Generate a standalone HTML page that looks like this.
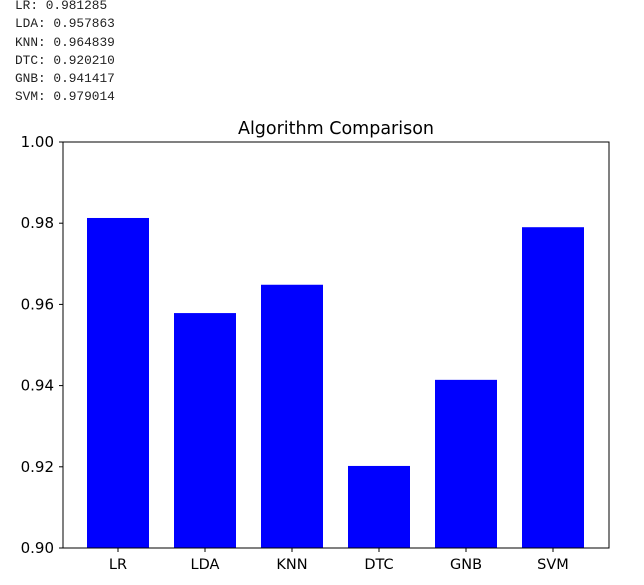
<!DOCTYPE html>
<html><head><meta charset="utf-8"><style>
body{margin:0;background:#fff;width:644px;height:585px;overflow:hidden;position:relative}
#log{position:absolute;left:15px;top:-3px;font:12.8px/18.3px "Liberation Mono",monospace;color:#222;white-space:pre}
svg{position:absolute;left:0;top:0}
text{font-family:"DejaVu Sans","Liberation Sans",sans-serif}
</style></head><body>
<div id="log">LR: 0.981285
LDA: 0.957863
KNN: 0.964839
DTC: 0.920210
GNB: 0.941417
SVM: 0.979014</div>
<svg id="chart" width="644" height="585"></svg>
<script>
const categories=["LR","LDA","KNN","DTC","GNB","SVM"];
const values=[0.981285,0.957863,0.964839,0.920210,0.941417,0.979014];
const yTicks=[0.90,0.92,0.94,0.96,0.98,1.00];
const L=63,R=609,T=142,B=548,yMin=0.90,yMax=1.00;
const y=v=>B-(v-yMin)/(yMax-yMin)*(B-T);
const step=87,first=118,bw=62;
const x=i=>first+step*i;
const svg=document.getElementById('chart');
const NS='http://www.w3.org/2000/svg';
function mk(tag,attrs,txt){const e=document.createElementNS(NS,tag);for(const k in attrs)e.setAttribute(k,attrs[k]);if(txt!==undefined)e.textContent=txt;svg.appendChild(e);return e;}
values.forEach((v,i)=>{
 const r=mk('rect',{x:x(i)-bw/2,y:y(v),width:bw,height:B-y(v),fill:'#0000ff'});
 
 
 mk('line',{x1:x(i),x2:x(i),y1:B,y2:B+4,stroke:'#000'});
 const lb=mk('text',{x:x(i),y:B+21,'text-anchor':'middle','font-size':'14.5'},categories[i]);
 
 
});
yTicks.forEach(v=>{
 mk('line',{x1:L-4,x2:L,y1:y(v),y2:y(v),stroke:'#000'});
 const lb=mk('text',{x:L-9,y:y(v)+5,'text-anchor':'end','font-size':'15'},v.toFixed(2));
 
 
});
const f=mk('rect',{x:L,y:T,width:R-L,height:B-T,fill:'none',stroke:'#000','stroke-width':1});


const ti=mk('text',{x:(L+R)/2,y:T-8,'text-anchor':'middle','font-size':'17.5'},'Algorithm Comparison');


</script>
</body></html>
